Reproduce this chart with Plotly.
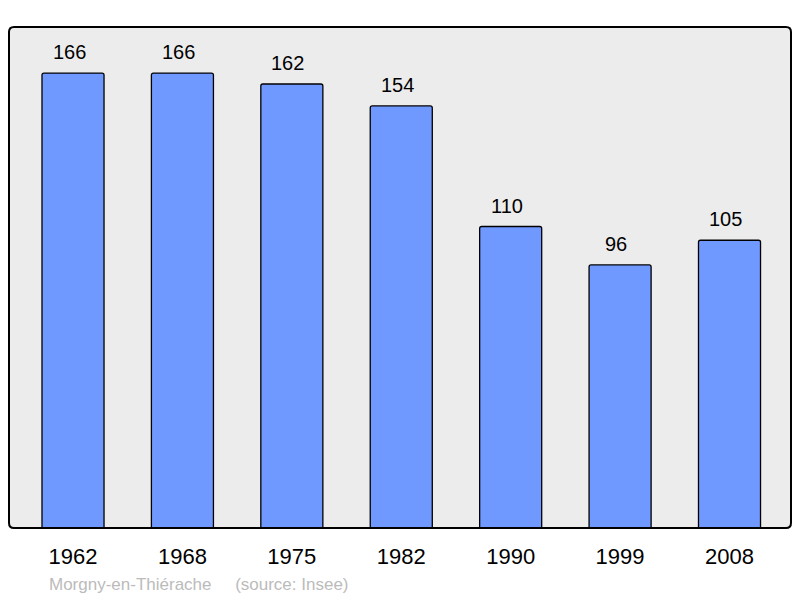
import plotly.graph_objects as go

years = ["1962", "1968", "1975", "1982", "1990", "1999", "2008"]
population = [166, 166, 162, 154, 110, 96, 105]
footer = "Morgny-en-Thiérache&nbsp;&nbsp;&nbsp;&nbsp;&nbsp;(source: Insee)"

W, H = 800, 598
ml, mr, mt, mb = 9, 9, 27, 70
pw, ph = W - ml - mr, H - mt - mb
FONT = "Liberation Sans, Arial, sans-serif"

fig = go.Figure()
fig.add_trace(go.Bar(
    x=years, y=population, width=0.567,
    marker=dict(color="#7099ff", line=dict(color="#000000", width=1.3), cornerradius=2),
    hoverinfo="skip",
))

for i, v in enumerate(population):
    fig.add_annotation(x=i, y=v, text=str(v), showarrow=False, yanchor="bottom",
                       yshift=8, xshift=-4, font=dict(size=20, color="#000000", family=FONT))

fig.add_annotation(xref="paper", yref="paper", x=(47 - ml) / pw, y=(528 - 584) / ph,
                   xanchor="left", yanchor="middle", text=footer, showarrow=False,
                   font=dict(size=17, color="#bbbbbb", family=FONT))

# rounded frame
r = 5
rx, ry = r / pw, r / ph
path = (f"M {rx},0 L {1-rx},0 Q 1,0 1,{ry} L 1,{1-ry} Q 1,1 {1-rx},1 "
        f"L {rx},1 Q 0,1 0,{1-ry} L 0,{ry} Q 0,0 {rx},0 Z")
fig.add_shape(type="path", xref="paper", yref="paper", path=path,
              line=dict(color="#000000", width=2), fillcolor="rgba(0,0,0,0)", layer="above")

fig.update_layout(
    width=W, height=H,
    margin=dict(l=ml, r=mr, t=mt, b=mb, pad=0),
    paper_bgcolor="#ffffff", plot_bgcolor="#ececec",
    showlegend=False,
    font=dict(family=FONT, color="#000000"),
    xaxis=dict(type="category", range=[-0.585, 6.562], showgrid=False, zeroline=False, showline=False,
               ticks="outside", ticklen=9, tickcolor="rgba(0,0,0,0)",
               tickfont=dict(size=22, color="#000000")),
    yaxis=dict(range=[0, 182.8], showgrid=False, zeroline=False, showline=False,
               showticklabels=False, ticks=""),
)

fig.write_html("out.html", config={"displayModeBar": False},
               post_script="document.body.style.margin='0';document.body.style.overflow='hidden';")
